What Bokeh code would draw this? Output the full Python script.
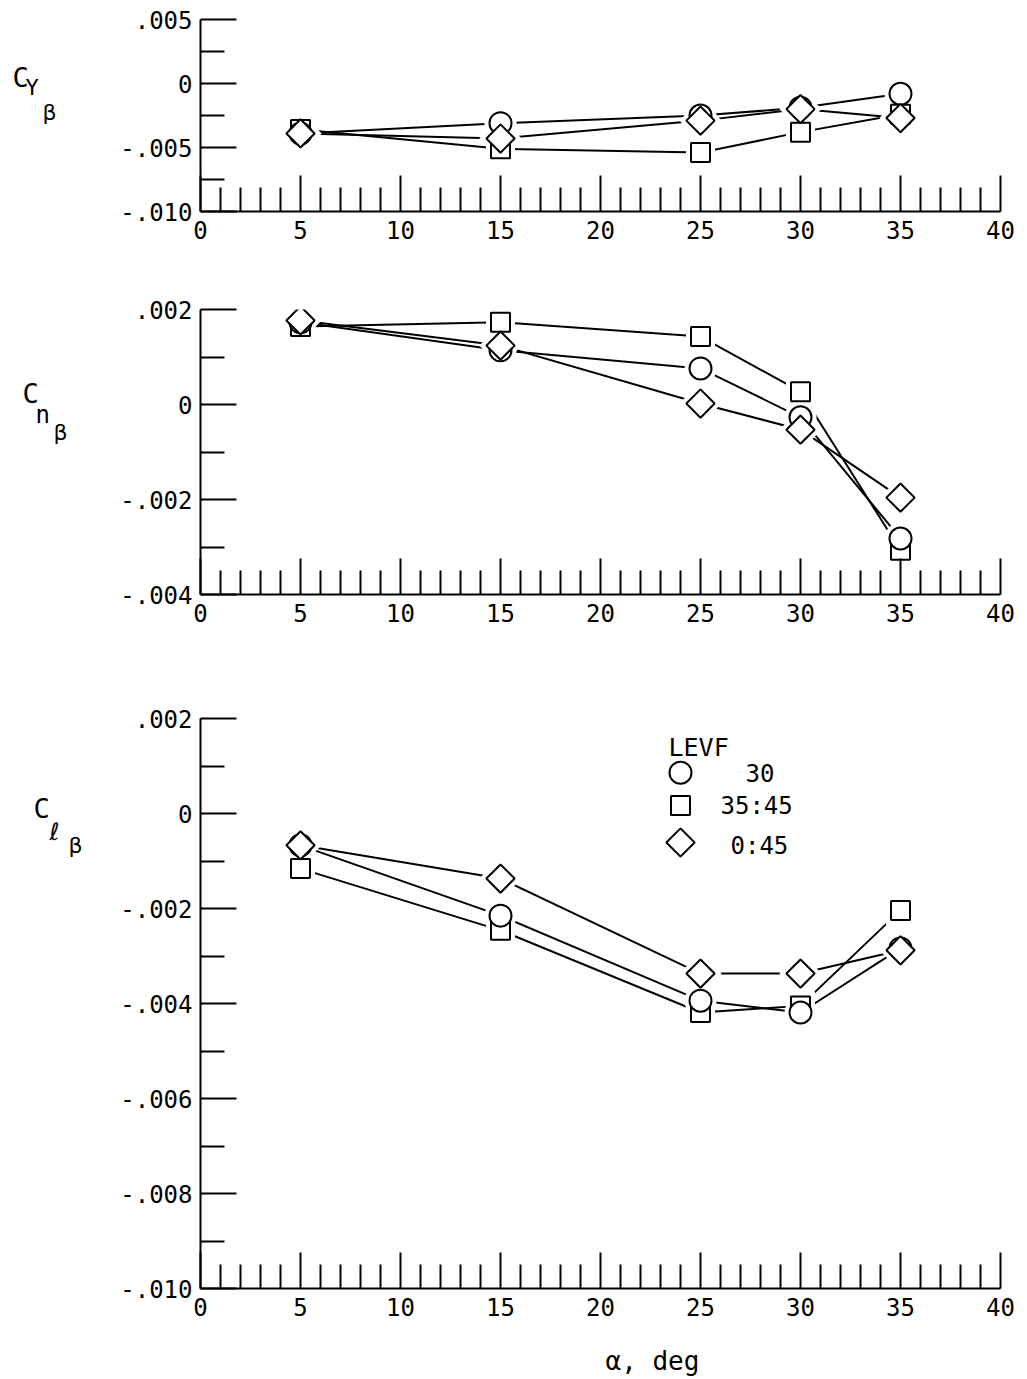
import numpy as np
from bokeh.plotting import figure
from bokeh.models import Range1d, FixedTicker, Label
from bokeh.layouts import column, row
from bokeh.embed import file_html
from bokeh.resources import INLINE

# ---------------- data ----------------
alpha = [5, 15, 25, 30, 35]

# side-force derivative C_Y_beta
cy_30 = [-0.0039, -0.0031, -0.0025, -0.0019, -0.0008]
cy_3545 = [-0.0036, -0.0051, -0.0054, -0.0038, -0.0024]
cy_045 = [-0.0039, -0.0043, -0.0029, -0.0020, -0.0027]

# yawing-moment derivative C_n_beta
cn_30 = [0.00173, 0.00114, 0.00076, -0.00027, -0.00282]
cn_3545 = [0.00164, 0.00173, 0.00143, 0.00027, -0.00307]
cn_045 = [0.00177, 0.00124, 0.00002, -0.00053, -0.00196]

# rolling-moment derivative C_l_beta
cl_30 = [-0.00067, -0.00215, -0.00394, -0.00419, -0.00284]
cl_3545 = [-0.00116, -0.00246, -0.00419, -0.00405, -0.00204]
cl_045 = [-0.00067, -0.00137, -0.00337, -0.00337, -0.00288]

series_names = ["30", "35:45", "0:45"]
legend_title = "LEVF"

x_ticks = [0, 5, 10, 15, 20, 25, 30, 35, 40]
x_tick_labels = ["0", "5", "10", "15", "20", "25", "30", "35", "40"]
x_minor = [v for v in range(0, 41) if v % 5 != 0]

cy_ticks = [0.005, 0.0, -0.005, -0.010]
cy_tick_labels = [".005", "0", "-.005", "-.010"]
cy_minor = [0.0025, -0.0025, -0.0075]

cn_ticks = [0.002, 0.0, -0.002, -0.004]
cn_tick_labels = [".002", "0", "-.002", "-.004"]
cn_minor = [0.001, -0.001, -0.003]

cl_ticks = [0.002, 0.0, -0.002, -0.004, -0.006, -0.008, -0.010]
cl_tick_labels = [".002", "0", "-.002", "-.004", "-.006", "-.008", "-.010"]
cl_minor = [0.001, -0.001, -0.003, -0.005, -0.007, -0.009]

# legend key positions (data units of bottom panel)
legend_x = 24.0
legend_y = [0.00086, 0.00017, -0.00061]

FONT = "DejaVu Sans Mono"
MARKERS = [("circle", 22, 0.0), ("square", 19, 0.0), ("square", 20, np.pi / 4)]
DRAW_ORDER = [1, 0, 2]
LEFT_W = 108


def blank(width, height):
    b = figure(width=width, height=height, x_range=Range1d(0, 1), y_range=Range1d(0, 1),
               output_backend="svg", toolbar_location=None,
               x_axis_location=None, y_axis_location=None,
               min_border_left=0, min_border_right=0, min_border_top=0, min_border_bottom=0)
    b.outline_line_color = None
    b.grid.visible = False
    return b


def make_panel(ylo, yhi, yticks, ylabels, yminor, data, height, top, bottom):
    p = figure(width=911, height=height, x_range=Range1d(0, 40),
               y_range=Range1d(ylo, yhi), output_backend="svg",
               toolbar_location=None, min_border_left=92, min_border_right=19,
               min_border_top=top, min_border_bottom=bottom)
    p.outline_line_color = None
    p.grid.visible = False

    xa = p.xaxis[0]
    ya = p.yaxis[0]
    xa.ticker = FixedTicker(ticks=x_ticks, minor_ticks=x_minor)
    xa.major_label_overrides = {t: l for t, l in zip(x_ticks, x_tick_labels)}
    ya.ticker = FixedTicker(ticks=yticks, minor_ticks=yminor)
    ya.major_label_overrides = {t: l for t, l in zip(yticks, ylabels)}
    for ax in (xa, ya):
        ax.axis_line_width = 2
        ax.axis_line_color = "black"
        ax.major_tick_line_width = 2
        ax.minor_tick_line_width = 2
        ax.major_tick_line_color = "black"
        ax.minor_tick_line_color = "black"
        ax.major_tick_in = 36
        ax.major_tick_out = 0
        ax.minor_tick_in = 24
        ax.minor_tick_out = 0
        ax.major_label_text_font = FONT
        ax.major_label_text_font_size = "24px"
        ax.major_label_text_color = "black"
    xa.major_label_standoff = 9
    ya.major_label_standoff = 8

    for vals in data:
        p.line(alpha, vals, line_color="black", line_width=2)
    # white halos so the lines stop short of the symbols
    for i in DRAW_ORDER:
        m, s, a = MARKERS[i]
        p.scatter(alpha, data[i], marker=m, size=s + 10, angle=a,
                  fill_color="white", line_color=None)
    for i in DRAW_ORDER:
        m, s, a = MARKERS[i]
        p.scatter(alpha, data[i], marker=m, size=s, angle=a,
                  fill_color="white", line_color="black", line_width=2)
    return p


def add_text(p, x, y, text, size="24px", font=FONT, baseline="middle"):
    p.add_layout(Label(x=x, y=y, x_units="screen", y_units="screen", text=text,
                       text_font=font, text_font_size=size, text_color="black",
                       text_baseline=baseline, text_align="left"))


H1, H2, H3 = 260, 396, 682
p1 = make_panel(-0.010, 0.005, cy_ticks, cy_tick_labels, cy_minor,
                [cy_30, cy_3545, cy_045], H1, 19, 49)
p2 = make_panel(-0.004, 0.002, cn_ticks, cn_tick_labels, cn_minor,
                [cn_30, cn_3545, cn_045], H2, 49, 62)
p3 = make_panel(-0.010, 0.002, cl_ticks, cl_tick_labels, cl_minor,
                [cl_30, cl_3545, cl_045], H3, 62, 50)

# y-axis titles, in narrow blank panels at the left (frames aligned with the plots)
l1 = blank(LEFT_W, H1)
add_text(l1, 12, 134, "C", "27px")
add_text(l1, 25, 124, "Y", "22px")
add_text(l1, 42, 99, "β", "22px", "DejaVu Sans")

l2 = blank(LEFT_W, H2)
add_text(l2, 22, 201, "C", "27px")
add_text(l2, 35, 180, "n", "24px")
add_text(l2, 53, 162, "β", "22px", "DejaVu Sans")

l3 = blank(LEFT_W, H3)
add_text(l3, 33, 480, "C", "27px")
add_text(l3, 49, 457, "ℓ", "24px", "DejaVu Sans")
add_text(l3, 68, 443, "β", "22px", "DejaVu Sans")

# x-axis title in a strip below
strip = blank(LEFT_W + 911, 41)
add_text(strip, 605, 19, "α, deg", "26px")

# legend
add_text(p3, 468, 541, legend_title, "25px")
label_offsets = [(545, 516), (520, 483), (530, 443)]
for i in range(3):
    m, s, a = MARKERS[i]
    p3.scatter([legend_x], [legend_y[i]], marker=m, size=s, angle=a,
               fill_color="white", line_color="black", line_width=2)
    add_text(p3, label_offsets[i][0], label_offsets[i][1], series_names[i], "24px")

layout = column(row(l1, p1, spacing=0), row(l2, p2, spacing=0),
                row(l3, p3, spacing=0), strip, spacing=0)

with open("out.html", "w") as f:
    f.write(file_html(layout, INLINE))
